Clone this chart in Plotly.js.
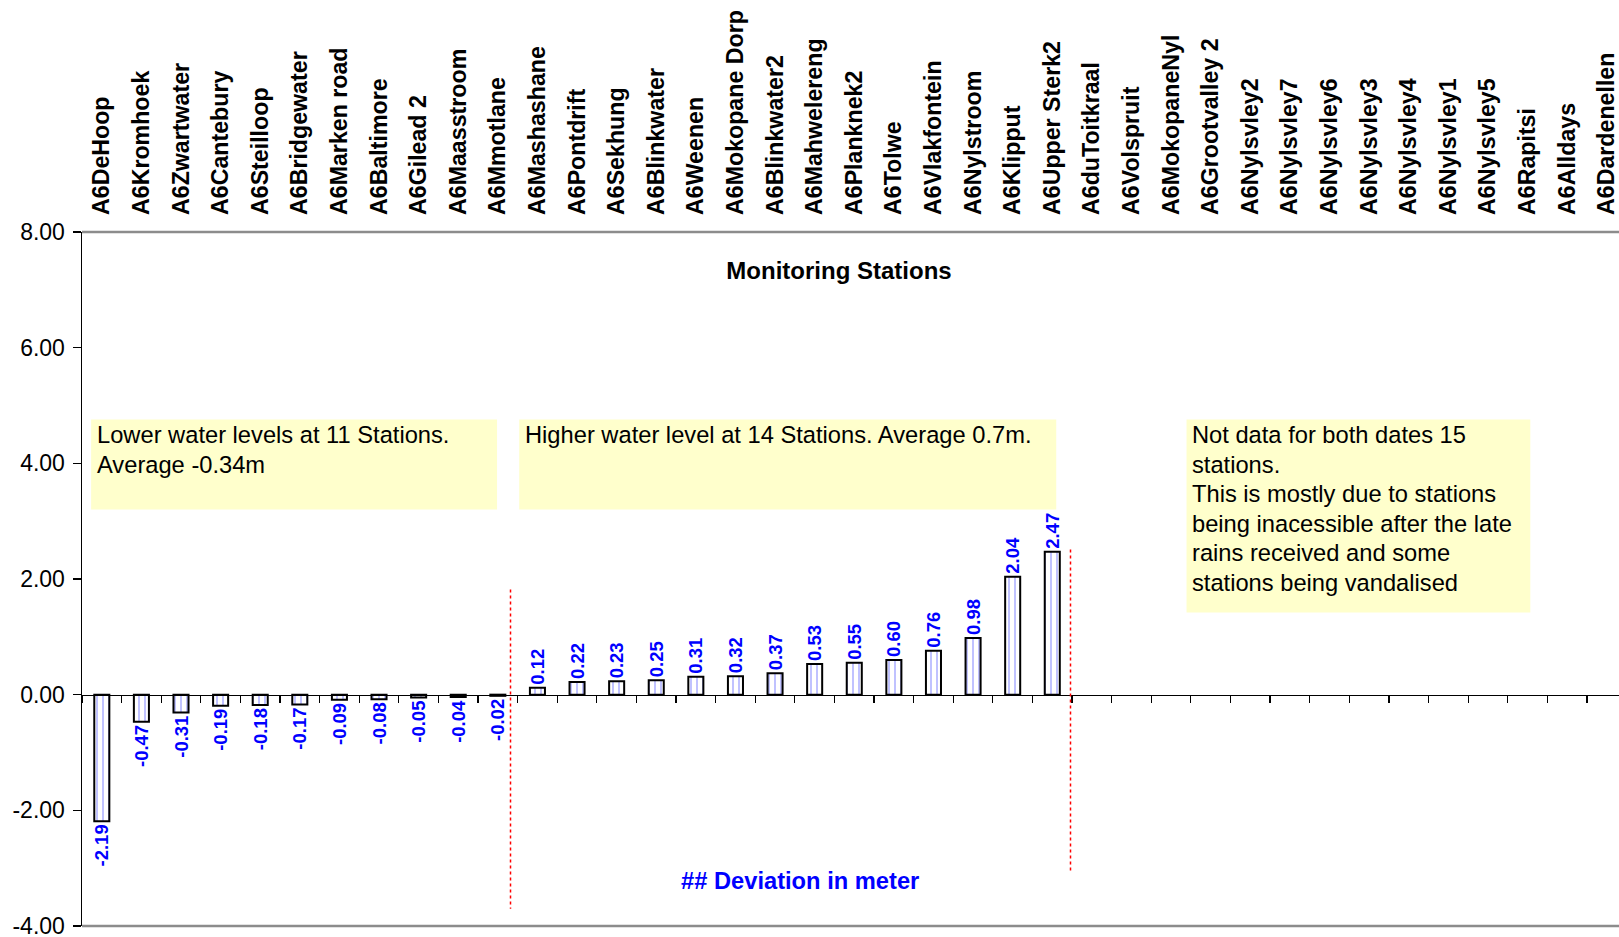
<!DOCTYPE html>
<html>
<head>
<meta charset="utf-8">
<script src="https://cdn.plot.ly/plotly-3.0.1.min.js"></script>
<style>html,body{margin:0;padding:0;background:#fff;}#chart{width:1619px;height:937px;}</style>
</head>
<body>
<div id="chart"></div>
<script>
// ---- data ----
const stations = [
  "A6DeHoop","A6Kromhoek","A6Zwartwater","A6Cantebury","A6Steilloop","A6Bridgewater",
  "A6Marken road","A6Baltimore","A6Gilead 2","A6Maasstroom","A6Mmotlane",
  "A6Mashashane","A6Pontdrift","A6Sekhung","A6Blinkwater","A6Weenen","A6Mokopane Dorp",
  "A6Blinkwater2","A6Mahwelereng","A6Planknek2","A6Tolwe","A6Vlakfontein","A6Nylstroom",
  "A6Klipput","A6Upper Sterk2",
  "A6duToitkraal","A6Volspruit","A6MokopaneNyl","A6Grootvalley 2","A6Nylsvley2","A6Nylsvley7",
  "A6Nylsvley6","A6Nylsvley3","A6Nylsvley4","A6Nylsvley1","A6Nylsvley5","A6Rapitsi",
  "A6Alldays","A6Dardenellen"
];
const lowerValues = [-2.19,-0.47,-0.31,-0.19,-0.18,-0.17,-0.09,-0.08,-0.05,-0.04,-0.02];
const higherValues = [0.12,0.22,0.23,0.25,0.31,0.32,0.37,0.53,0.55,0.60,0.76,0.98,2.04,2.47];
const noDataCount = stations.length - lowerValues.length - higherValues.length;
const deviation = lowerValues.concat(higherValues, new Array(noDataCount).fill(null));

const yTicks = [-4, -2, 0, 2, 4, 6, 8];
const yTickText = yTicks.map(v => v.toFixed(2));

const noteLowerLines = ["Lower water levels at 11 Stations.", "Average -0.34m"];
const noteHigherLines = ["Higher water level at 14 Stations. Average 0.7m."];
const noteNoDataLines = [
  "Not data for both dates 15",
  "stations.",
  "This is mostly due to stations",
  "being inacessible after the late",
  "rains received and some",
  "stations being vandalised"
];

// ---- chart ----
const FONT = "Liberation Sans, Arial, Helvetica, sans-serif";
const xr = [-0.5, 38.31];

const bars = {
  type: "bar",
  x: stations,
  y: deviation,
  width: 0.38,
  marker: {
    color: "#ffffff",
    line: { color: "#000000", width: 2 },
    pattern: { shape: "|", fgcolor: "#9fa3ff", bgcolor: "#ffffff", size: 6, solidity: 0.22 }
  },
  texttemplate: "%{y:.2f}",
  textposition: "outside",
  textangle: -90,
  constraintext: "none",
  cliponaxis: false,
  outsidetextfont: { family: FONT, size: 18.5, color: "#0000ff", weight: "bold" },
  hoverinfo: "x+y",
  showlegend: false
};

// empty helper trace so the zero-line axis (x2) gets a subplot
const zeroAxisHolder = {
  type: "scatter",
  mode: "none",
  x: [],
  y: [],
  xaxis: "x2",
  yaxis: "y",
  hoverinfo: "skip",
  showlegend: false
};

// note text: one annotation per line, Excel-like line spacing
const LINE_Y0 = 4.486, LINE_STEP = 0.51;
function noteAnnotations(lines, x) {
  return lines.map((t, i) => ({
    text: t, xref: "x", yref: "y", x: x, y: LINE_Y0 - i * LINE_STEP,
    xanchor: "left", yanchor: "middle", align: "left", showarrow: false,
    font: { family: FONT, size: 23.7, color: "#000000" }
  }));
}

const boxFill = "#ffffcc";
const layout = {
  width: 1619,
  height: 937,
  margin: { l: 82, r: 0, t: 232, b: 11, pad: 0 },
  paper_bgcolor: "#ffffff",
  plot_bgcolor: "#ffffff",
  font: { family: FONT, size: 23, color: "#000000" },
  showlegend: false,
  title: {
    text: "<b>Monitoring Stations</b>",
    font: { family: FONT, size: 24, color: "#000000" },
    x: 839 / 1619, xanchor: "center", xref: "container",
    y: 1 - 271 / 937, yanchor: "middle", yref: "container"
  },
  xaxis: {
    type: "category",
    side: "top",
    range: xr,
    tickangle: -90,
    ticks: "",
    ticklabelstandoff: 16,
    tickfont: { family: FONT, size: 23.2, color: "#000000", weight: "bold" },
    showline: false,
    showgrid: false,
    zeroline: false,
    fixedrange: true
  },
  xaxis2: {
    type: "linear",
    overlaying: "x",
    anchor: "free",
    position: 1 / 3,
    side: "bottom",
    range: xr,
    tick0: 0.5,
    dtick: 1,
    ticks: "outside",
    ticklen: 7,
    tickwidth: 1.2,
    tickcolor: "#000000",
    showticklabels: false,
    showline: true,
    linecolor: "#000000",
    linewidth: 1.5,
    showgrid: false,
    zeroline: false,
    fixedrange: true
  },
  yaxis: {
    range: [-4, 8],
    tickvals: yTicks,
    ticktext: yTickText,
    ticks: "outside",
    ticklen: 8,
    tickwidth: 1.2,
    tickcolor: "#000000",
    ticklabelstandoff: 3,
    ticklabeloverflow: "allow",
    showline: true,
    linecolor: "#000000",
    linewidth: 1.5,
    showgrid: false,
    zeroline: false,
    tickfont: { family: FONT, size: 23, color: "#000000" },
    fixedrange: true
  },
  shapes: [
    // plot area frame (top and bottom)
    { type: "line", xref: "paper", yref: "paper", x0: 0, x1: 1, y0: 1, y1: 1, line: { color: "#8c8c8c", width: 2.5 } },
    { type: "line", xref: "paper", yref: "paper", x0: 0, x1: 1, y0: 0, y1: 0, line: { color: "#8c8c8c", width: 2.5 } },
    // note boxes
    { type: "rect", xref: "x", yref: "y", x0: -0.27, x1: 9.98, y0: 3.20, y1: 4.76, fillcolor: boxFill, line: { width: 0 }, layer: "below" },
    { type: "rect", xref: "x", yref: "y", x0: 10.54, x1: 24.10, y0: 3.20, y1: 4.76, fillcolor: boxFill, line: { width: 0 }, layer: "below" },
    { type: "rect", xref: "x", yref: "y", x0: 27.39, x1: 36.07, y0: 1.42, y1: 4.76, fillcolor: boxFill, line: { width: 0 }, layer: "below" },
    // red dotted separators
    { type: "line", xref: "x", yref: "y", x0: 10.32, x1: 10.32, y0: 1.82, y1: -3.70, line: { color: "#ff0000", width: 1.5, dash: "dot" } },
    { type: "line", xref: "x", yref: "y", x0: 24.46, x1: 24.46, y0: 2.51, y1: -3.06, line: { color: "#ff0000", width: 1.5, dash: "dot" } }
  ],
  annotations: [].concat(
    noteAnnotations(noteLowerLines, -0.17),
    noteAnnotations(noteHigherLines, 10.64),
    noteAnnotations(noteNoDataLines, 27.48),
    [{ text: "<b>## Deviation in meter</b>", xref: "x", yref: "y", x: 17.64, y: -3.22, xanchor: "center", yanchor: "middle", showarrow: false,
       font: { family: FONT, size: 23.7, color: "#0000ff" } }]
  )
};

Plotly.newPlot("chart", [bars, zeroAxisHolder], layout, { displayModeBar: false, staticPlot: true });
</script>
</body>
</html>
